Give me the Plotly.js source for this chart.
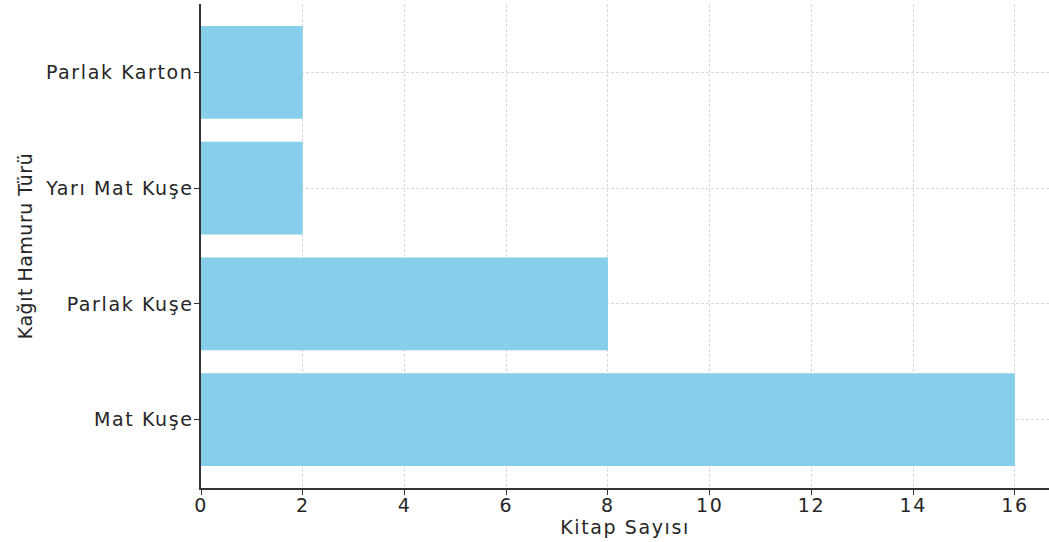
<!DOCTYPE html>
<html>
<head>
<meta charset="utf-8">
<script src="https://cdn.plot.ly/plotly-3.0.1.min.js"></script>
<style>
html,body{margin:0;padding:0;background:#fff;}
#chart{width:1049px;height:542px;}
#chart .xtick text, #chart .ytick text, #chart .g-xtitle text{letter-spacing:1.6px;}
#chart .g-ytitle text{letter-spacing:0.5px;}
</style>
</head>
<body>
<div id="chart"></div>
<script>
const categories = ["Mat Kuşe", "Parlak Kuşe", "Yarı Mat Kuşe", "Parlak Karton"];
const bookCounts = [16, 8, 2, 2];
const xTicks = [0, 2, 4, 6, 8, 10, 12, 14, 16];

const font = {family: "DejaVu Sans, sans-serif", size: 19, color: "#262626"};

Plotly.newPlot("chart", [{
  type: "bar",
  orientation: "h",
  x: bookCounts,
  y: categories,
  width: 0.8,
  marker: {color: "#87CEEB", line: {width: 0}},
  hoverinfo: "x+y"
}], {
  width: 1049, height: 542,
  margin: {l: 201, r: 0, t: 4, b: 54, pad: 0},
  paper_bgcolor: "#fff", plot_bgcolor: "#fff",
  font: font,
  showlegend: false,
  xaxis: {
    range: [0, 16.67],
    tickvals: xTicks,
    ticktext: xTicks.map(String),
    ticks: "outside", ticklen: 5, tickwidth: 1.2, tickcolor: "#333",
    ticklabelstandoff: -6,
    showline: true, linecolor: "#333", linewidth: 1.5,
    showgrid: true, gridcolor: "#d8d8d8", griddash: "3px,2px", gridwidth: 1,
    zeroline: false,
    tickfont: font,
    title: {text: "Kitap Sayısı", font: font, standoff: 0}
  },
  yaxis: {
    range: [-0.59, 3.59],
    type: "category",
    ticks: "outside", ticklen: 5, tickwidth: 1.2, tickcolor: "#333",
    ticklabelstandoff: -3,
    showline: true, linecolor: "#333", linewidth: 1.5,
    showgrid: true, gridcolor: "#d8d8d8", griddash: "3px,2px", gridwidth: 1,
    zeroline: false,
    tickfont: font,
    title: {text: "Kağıt Hamuru Türü", font: font, standoff: 28}
  }
}, {displayModeBar: false});
</script>
</body>
</html>
